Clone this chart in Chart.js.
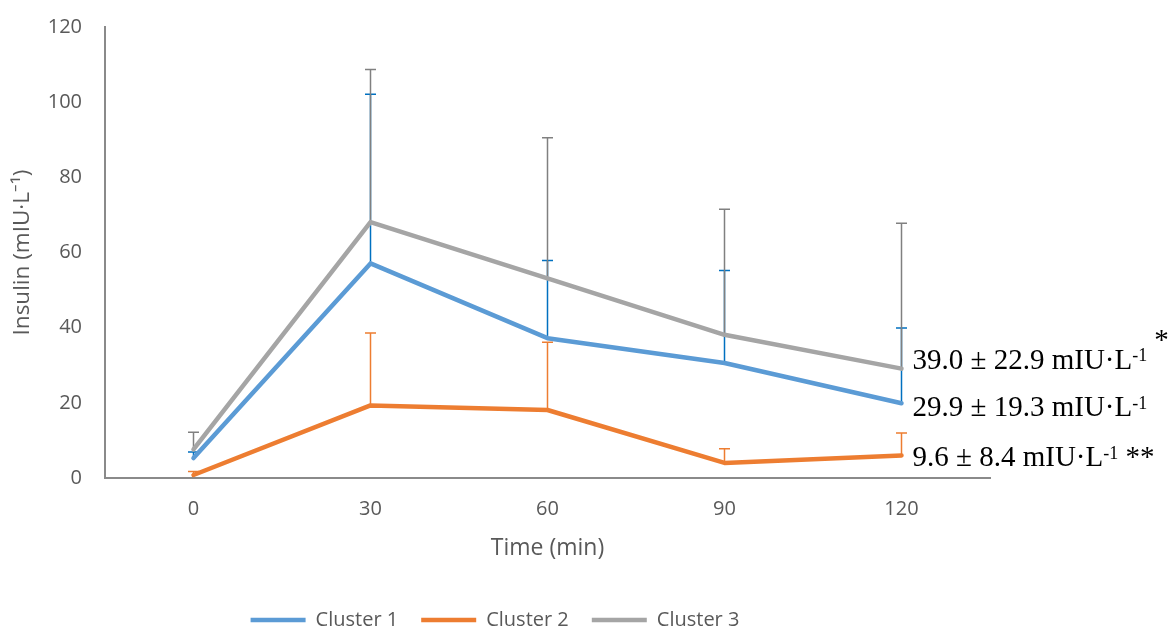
<!DOCTYPE html>
<html lang="en">
<head>
    <meta charset="UTF-8">
    <title>Insulin by cluster</title>
    <style>
        html, body { margin: 0; padding: 0; background: #fff; }
        .chart { width: 1174px; height: 632px; }
    </style>
</head>
<body>
    <div class="chart">
        <canvas id="insulinChart"></canvas>
    </div>

    <script src="https://cdn.jsdelivr.net/npm/chart.js"></script>
    <script>
        const timeLabels = ['0', '30', '60', '90', '120'];
        const yTicks = [0, 20, 40, 60, 80, 100, 120];

        const cluster1 = [5.3, 57.1, 37.2, 30.6, 19.9];
        const cluster2 = [0.8, 19.3, 18.1, 4.0, 6.0];
        const cluster3 = [7.6, 68.1, 53.1, 38.1, 29.1];

        // upper end of each error bar (mean + SD)
        const cluster1Upper = [6.9, 102.1, 57.9, 55.2, 39.9];
        const cluster2Upper = [1.7, 38.6, 36.1, 7.8, 12.0];
        const cluster3Upper = [12.2, 108.7, 90.5, 71.5, 67.8];

        const seriesNames = ['Cluster 1', 'Cluster 2', 'Cluster 3'];

        // text at the end of each line: main part, superscript, trailing stars
        const endMain = ['29.9 ± 19.3 mIU·L', '9.6 ± 8.4 mIU·L', '39.0 ± 22.9 mIU·L'];
        const endSup = ['-1', '-1', '-1'];
        const endStars = ['', ' **', '*'];

        const lineColors = ['#5B9BD5', '#ED7D31', '#A5A5A5'];
        const barColors = ['#0070C0', '#ED7D31', '#808080'];
        const uppers = [cluster1Upper, cluster2Upper, cluster3Upper];

        const textGray = '#595959';
        const axisGray = '#8A8A8A';

        const errorBars = {
            id: 'errorBars',
            beforeDatasetsDraw(chart) {
                const ctx = chart.ctx;
                const yScale = chart.scales.y;
                ctx.save();
                ctx.lineWidth = 1.5;
                [0, 1, 2].forEach(i => {
                    const meta = chart.getDatasetMeta(i);
                    ctx.strokeStyle = barColors[i];
                    meta.data.forEach((pt, j) => {
                        const top = yScale.getPixelForValue(uppers[i][j]);
                        ctx.beginPath();
                        ctx.moveTo(pt.x, pt.y);
                        ctx.lineTo(pt.x, top);
                        ctx.moveTo(pt.x - 5.5, top);
                        ctx.lineTo(pt.x + 5.5, top);
                        ctx.stroke();
                    });
                });
                ctx.restore();
            }
        };

        // baseline shift of each end label from its last point
        const endShift = [13, 11, 0];

        const endLabels = {
            id: 'endLabels',
            afterDraw(chart) {
                const ctx = chart.ctx;
                ctx.save();
                ctx.fillStyle = '#000';
                ctx.textBaseline = 'alphabetic';
                ctx.textAlign = 'left';
                [0, 1, 2].forEach(i => {
                    const meta = chart.getDatasetMeta(i);
                    const last = meta.data[meta.data.length - 1];
                    let x = last.x + 11;
                    const y = last.y + endShift[i];
                    ctx.font = '29px "Liberation Serif"';
                    ctx.fillText(endMain[i], x, y);
                    x += ctx.measureText(endMain[i]).width;
                    ctx.font = '18px "Liberation Serif"';
                    ctx.fillText(endSup[i], x, y - 7.5);
                    x += ctx.measureText(endSup[i]).width;
                    ctx.font = '29px "Liberation Serif"';
                    if (endStars[i] === '*') {
                        ctx.fillText(endStars[i], x + 7, y - 20);
                    } else if (endStars[i]) {
                        ctx.fillText(endStars[i], x, y);
                    }
                });
                ctx.restore();
            }
        };

        const datasets = [cluster1, cluster2, cluster3].map((values, i) => ({
            label: seriesNames[i],
            data: values,
            borderColor: lineColors[i],
            backgroundColor: lineColors[i],
            borderWidth: 4.5,
            borderCapStyle: 'round',
            borderJoinStyle: 'round',
            pointRadius: 0,
            pointHoverRadius: 0,
            tension: 0,
            fill: false
        }));

        new Chart(document.getElementById('insulinChart'), {
            type: 'line',
            data: { labels: timeLabels, datasets: datasets },
            plugins: [errorBars, endLabels],
            options: {
                responsive: true,
                maintainAspectRatio: false,
                animation: false,
                layout: { padding: { top: 11, right: 184, bottom: -8, left: 0 } },
                scales: {
                    x: {
                        type: 'category',
                        offset: true,
                        grid: { display: false },
                        border: { display: true, color: axisGray, width: 2 },
                        ticks: {
                            color: textGray,
                            padding: 11,
                            font: { family: 'Open Sans', size: 20 }
                        },
                        title: {
                            display: true,
                            text: 'Time (min)',
                            color: textGray,
                            padding: { top: 0, bottom: 25 },
                            font: { family: 'Open Sans', size: 23 }
                        },
                        afterFit(scale) { scale.height = 109; }
                    },
                    y: {
                        min: 0,
                        max: 120,
                        afterBuildTicks(scale) {
                            scale.ticks = yTicks.map(v => ({ value: v }));
                        },
                        grid: { display: false },
                        border: { display: true, color: axisGray, width: 2 },
                        ticks: {
                            color: textGray,
                            padding: 15,
                            font: { family: 'Open Sans', size: 20 }
                        },
                        title: {
                            display: true,
                            text: 'Insulin (mIU·L⁻¹)',
                            color: textGray,
                            padding: { top: 9, bottom: 0 },
                            font: { family: 'Open Sans', size: 22.5 }
                        },
                        afterFit(scale) { scale.width = 105; }
                    }
                },
                plugins: {
                    legend: {
                        position: 'bottom',
                        labels: {
                            usePointStyle: true,
                            pointStyle: 'line',
                            pointStyleWidth: 55,
                            padding: 23,
                            color: textGray,
                            font: { family: 'Open Sans', size: 20 }
                        }
                    },
                    tooltip: { enabled: false }
                }
            }
        });
    </script>
</body>
</html>
